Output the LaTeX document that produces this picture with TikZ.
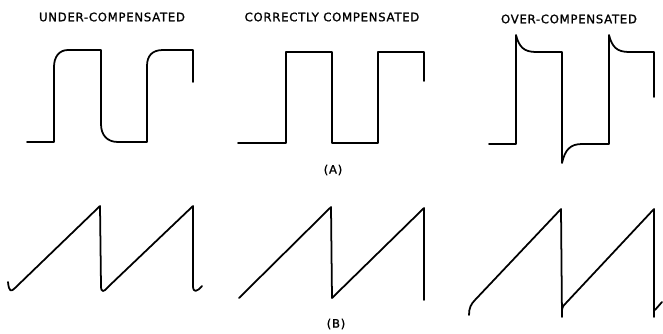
\documentclass[tikz,border=0pt]{standalone}
\usepackage{fontspec}
\setmainfont{DejaVu Sans}
\newfontfamily\capfont[LetterSpace=6,FakeBold=1.2]{DejaVu Sans}

\begin{document}
\begin{tikzpicture}[
    x=0.03cm, y=-0.03cm,
    wave/.style={line width=1.5pt, line join=round, line cap=round},
    title/.style={font=\capfont\fontsize{10}{11}\selectfont, inner sep=0pt},
    tag/.style={font=\capfont\fontsize{10}{11}\selectfont, inner sep=0pt}
]
    \useasboundingbox (0,0) rectangle (663,334);

    % Titles
    \node[title] (under) at (112,17) {UNDER-COMPENSATED};
    \node[title] (correct) at (332,17) {CORRECTLY COMPENSATED};
    \node[title] (over) at (569,19) {OVER-COMPENSATED};

    % (A) square waves
    \draw[wave] (27,142) -- (54,142) -- (54,67) .. controls (54,57) and (59,50) .. (68,50)
        -- (101,50) -- (101,124) .. controls (101,135) and (107,142) .. (118,142)
        -- (147,142) -- (147,66) .. controls (147,56) and (152,50) .. (163,50)
        -- (193,50) -- (193,82);
    \draw[wave] (238,143) -- (286,143) -- (286,52) -- (332,52) -- (332,143)
        -- (378,143) -- (378,52) -- (424,52) -- (424,81);
    \draw[wave] (489,144) -- (516,144) -- (516,35)
        .. controls (519,47) and (524,52) .. (536,52) -- (562,52) -- (562,163)
        .. controls (565,150) and (570,144) .. (582,144) -- (609,144) -- (609,35)
        .. controls (612,47) and (617,52) .. (629,52) -- (654,52) -- (654,97);
    \node[tag] (a) at (333,170) {(A)};

    % (B) sawtooth waves
    \draw[wave] (8,282) .. controls (9,292) and (11,292) .. (15,288) -- (100,206)
        -- (101,286) .. controls (101,293) and (104,292) .. (108,287) -- (193,206)
        -- (193,286) .. controls (193,293) and (197,292) .. (202,286);
    \draw[wave] (239,298) -- (331,207) -- (332,298) -- (424,208) -- (424,300);
    \draw[wave] (469,315) .. controls (469,308) and (471,304) .. (475,300)
        -- (561,209) -- (562,317);
    \draw[wave] (562,310) .. controls (563,306) .. (566,303) -- (654,209) -- (654,317);
    \draw[wave] (655,310) -- (662,302);
    \node[tag] (b) at (336,324) {(B)};
\end{tikzpicture}
\end{document}
